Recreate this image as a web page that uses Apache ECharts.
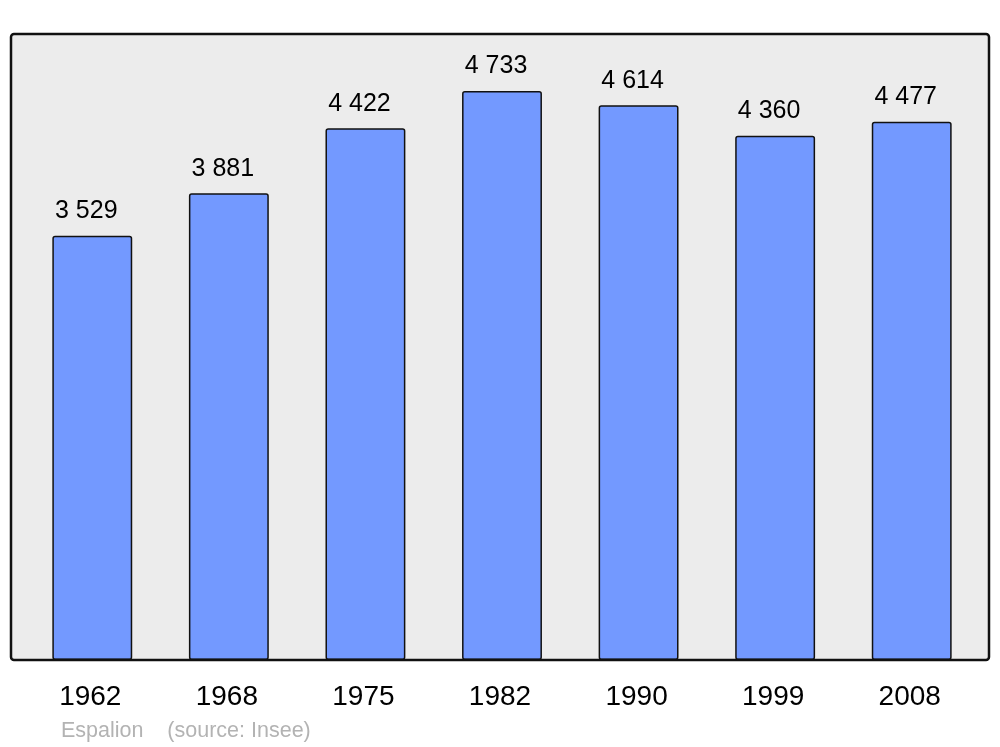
<!DOCTYPE html>
<html>
<head>
<meta charset="utf-8">
<script src="https://cdn.jsdelivr.net/npm/echarts@6/dist/echarts.min.js"></script>
<style>
html,body{margin:0;padding:0;background:#fff;}
#chart{width:1000px;height:747px;}
</style>
</head>
<body>
<div id="chart"></div>
<script>
const years = ["1962", "1968", "1975", "1982", "1990", "1999", "2008"];
const population = [3529, 3881, 4422, 4733, 4614, 4360, 4477];
const footerLabel = "Espalion    (source: Insee)";

function fmt(v) {
  return String(v).replace(/\B(?=(\d{3})+(?!\d))/g, " ");
}

const chart = echarts.init(document.getElementById('chart'), null, {renderer: 'canvas'});
chart.setOption({
  animation: false,
  backgroundColor: '#ffffff',
  textStyle: {fontFamily: 'Liberation Sans, Arial, sans-serif'},
  grid: {left: 24, right: 20, top: 34, bottom: 87, containLabel: false},
  xAxis: {
    type: 'category',
    data: years,
    axisLine: {show: false},
    axisTick: {show: false},
    axisLabel: {color: '#000', fontSize: 28, margin: 23, padding: [0, 4, 0, 0], fontFamily: 'Liberation Sans, Arial, sans-serif'}
  },
  yAxis: {
    type: 'value',
    min: 0,
    max: 5206,
    show: false,
    splitLine: {show: false}
  },
  graphic: [
    {type: 'rect', z: -10, shape: {x: 11, y: 34, width: 978, height: 626, r: 3}, style: {fill: '#ececec', stroke: null}},
    {type: 'rect', z: 100, shape: {x: 11, y: 34, width: 978, height: 626, r: 3}, style: {fill: 'none', stroke: '#111', lineWidth: 2.5}},
    {type: 'text', z: 100, left: 61, top: 720, style: {text: footerLabel, fill: '#b3b3b3', fontSize: 21.5, fontFamily: 'Liberation Sans, Arial, sans-serif'}}
  ],
  series: [{
    type: 'bar',
    data: population,
    barWidth: '58.5%',
    itemStyle: {color: '#7399ff', borderColor: '#111', borderWidth: 1.5, borderRadius: 2},
    label: {
      show: true,
      position: 'top',
      distance: 12,
      offset: [-6, 0],
      color: '#000',
      fontSize: 25,
      fontFamily: 'Liberation Sans, Arial, sans-serif',
      formatter: p => fmt(p.value)
    }
  }]
});
</script>
</body>
</html>
